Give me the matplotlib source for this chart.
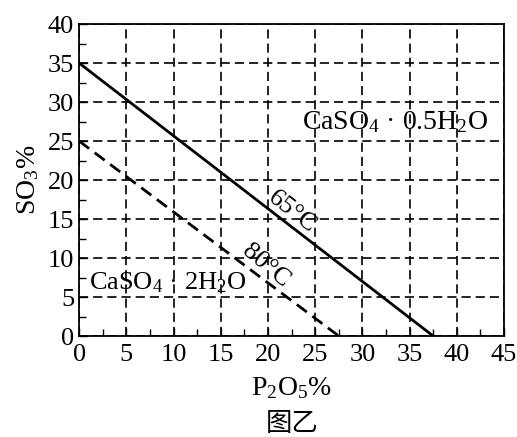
import matplotlib
matplotlib.use("Agg")
import matplotlib.pyplot as plt
from matplotlib.ticker import MultipleLocator

plt.rcParams['font.family'] = ['Liberation Serif', 'Noto Sans CJK SC', 'DejaVu Sans']
plt.rcParams['mathtext.fontset'] = 'custom'
plt.rcParams['mathtext.rm'] = 'Liberation Serif'
plt.rcParams['mathtext.it'] = 'Liberation Serif'

# phase boundary lines (P2O5 %, SO3 %)
line65_x = [0, 37.5]
line65_y = [35, 0]
line80_x = [0, 27.5]
line80_y = [25, 0]

xticks = [0, 5, 10, 15, 20, 25, 30, 35, 40, 45]
yticks = [0, 5, 10, 15, 20, 25, 30, 35, 40]

fig = plt.figure(figsize=(5.17, 4.37), dpi=100)
ax = fig.add_axes([0.153, 0.231, 0.822, 0.714])

ax.plot(line65_x, line65_y, color='black', lw=2)
ax.plot(line80_x, line80_y, color='black', lw=2, ls=(0, (4.5, 2.5)))

ax.set_xlim(0, 45)
ax.set_ylim(0, 40)
ax.set_xticks(xticks)
ax.set_yticks(yticks)
ax.xaxis.set_minor_locator(MultipleLocator(2.5))
ax.yaxis.set_minor_locator(MultipleLocator(2.5))
ax.tick_params(which='both', direction='in', labelsize=19, color='black')
ax.tick_params(which='major', length=6, width=1)
ax.tick_params(axis='x', which='major', pad=6)
ax.tick_params(which='minor', length=5, width=1)
ax.grid(True, which='major', color='black', lw=1.2, ls=(0, (5.5, 3)))
for s in ax.spines.values():
    s.set_linewidth(1.3)

ax.set_ylabel(r'SO$_3$%', fontsize=20, labelpad=5)
ax.set_xlabel(r'P$_2$O$_5$%', fontsize=20, labelpad=6)
fig.text(0.565, 0.0, '图乙', fontsize=19, ha='center', va='bottom',
         family=['Noto Sans CJK SC'])

ax.text(33.5, 27.4, r'CaSO$_4$ · 0.5H$_2$O', fontsize=20, ha='center', va='center')
ax.text(9.4, 6.8, r'CaSO$_4$ · 2H$_2$O', fontsize=19, ha='center', va='center')
ax.text(22.5, 15.9, '65°C', fontsize=19, ha='center', va='center', rotation=-38,
        rotation_mode='anchor')
ax.text(19.8, 9.0, '80°C', fontsize=19, ha='center', va='center', rotation=-40,
        rotation_mode='anchor')

fig.savefig('out.png', dpi=100)
